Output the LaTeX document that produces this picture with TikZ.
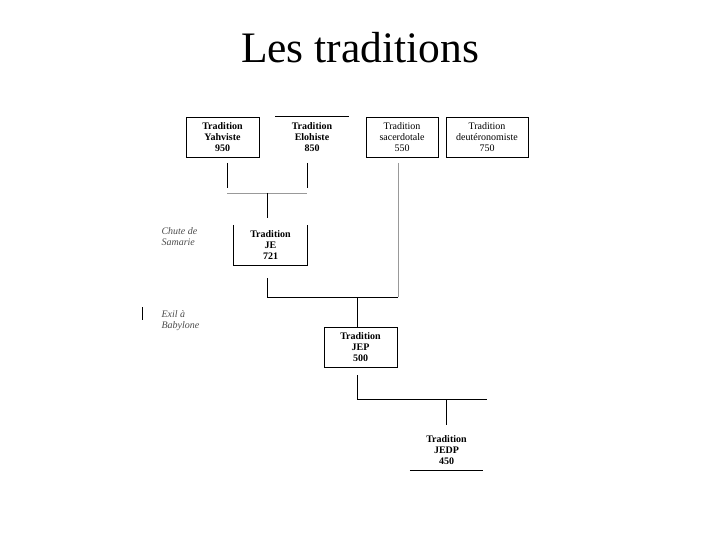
\documentclass[tikz,border=0pt]{standalone}
\usepackage{fontspec}
\setmainfont{Liberation Serif}
\usetikzlibrary{positioning}

\begin{document}
\begin{tikzpicture}[x=1pt,y=-1pt,
  trad/.style={align=center,font=\fontsize{10}{11}\selectfont\bfseries,
    minimum width=73pt,minimum height=40pt,inner sep=0pt},
  boxed/.style={trad,draw,line width=0.8pt},
  plain/.style={font=\fontsize{10}{11}\selectfont},
  event/.style={anchor=west,align=left,font=\fontsize{10}{11}\selectfont\itshape,text=black!70},
  link/.style={line width=0.8pt},
  faint/.style={link,black!40}]
\useasboundingbox (0,0) rectangle (720,540);
\node[font=\fontsize{43.5}{50}\selectfont] (title) at (360,48) {Les traditions};
% top row
\node[boxed] (yah) at (222.5,137) {Tradition\\Yahviste\\950};
\node[trad] (elo) at (312,137) {Tradition\\Elohiste\\850};
\node[boxed,plain,minimum width=72pt] (sac) at (402,137) {Tradition\\sacerdotale\\550};
\node[boxed,plain,minimum width=82pt] (deu) at (487,137) {Tradition\\deutéronomiste\\750};
\draw[link] (elo.north west) -- (elo.north east);
% J + E
\coordinate (yahA) at (227,163); \coordinate (yahB) at (227,188);
\coordinate (eloA) at (307,163); \coordinate (eloB) at (307,188);
\draw[link] (yahA) -- (yahB);
\draw[link] (eloA) -- (eloB);
\coordinate (jeL) at (227,193); \coordinate (jeR) at (307,193);
\draw[faint] (jeL) -- (jeR);
\node[trad] (je) at (270.5,245) {Tradition\\JE\\721};
\draw[link] (je.north west) -- (je.south west) -- (je.south east) -- (je.north east);
\draw[link] (267,193) -- (267,218);
\node[event] (samarie) at (158,237) {Chute de\\Samarie};
% JE + P
\coordinate (sacA) at (398,163); \coordinate (jepR) at (398,297);
\draw[faint] (sacA) -- (jepR);
\coordinate (jeA) at (267,278); \coordinate (jepL) at (267,297);
\draw[link] (jeA) -- (jepL) -- (jepR);
\node[boxed] (jep) at (360.5,347) {Tradition\\JEP\\500};
\draw[link] (357,297) -- (jep.north -| 357,0);
\node[event] (exil) at (158,321) {Exil à\\Babylone};
\draw[link] (142,307) -- (142,320);
% JEP + D
\coordinate (jepA) at (357,375); \coordinate (jedpL) at (357,399);
\coordinate (jedpR) at (487,399);
\draw[link] (jepA) -- (jedpL) -- (jedpR);
\node[trad] (jedp) at (446.5,450) {Tradition\\JEDP\\450};
\draw[link] (446,399) -- (446,425);
\draw[link] (jedp.south west) -- (jedp.south east);
\end{tikzpicture}
\end{document}
